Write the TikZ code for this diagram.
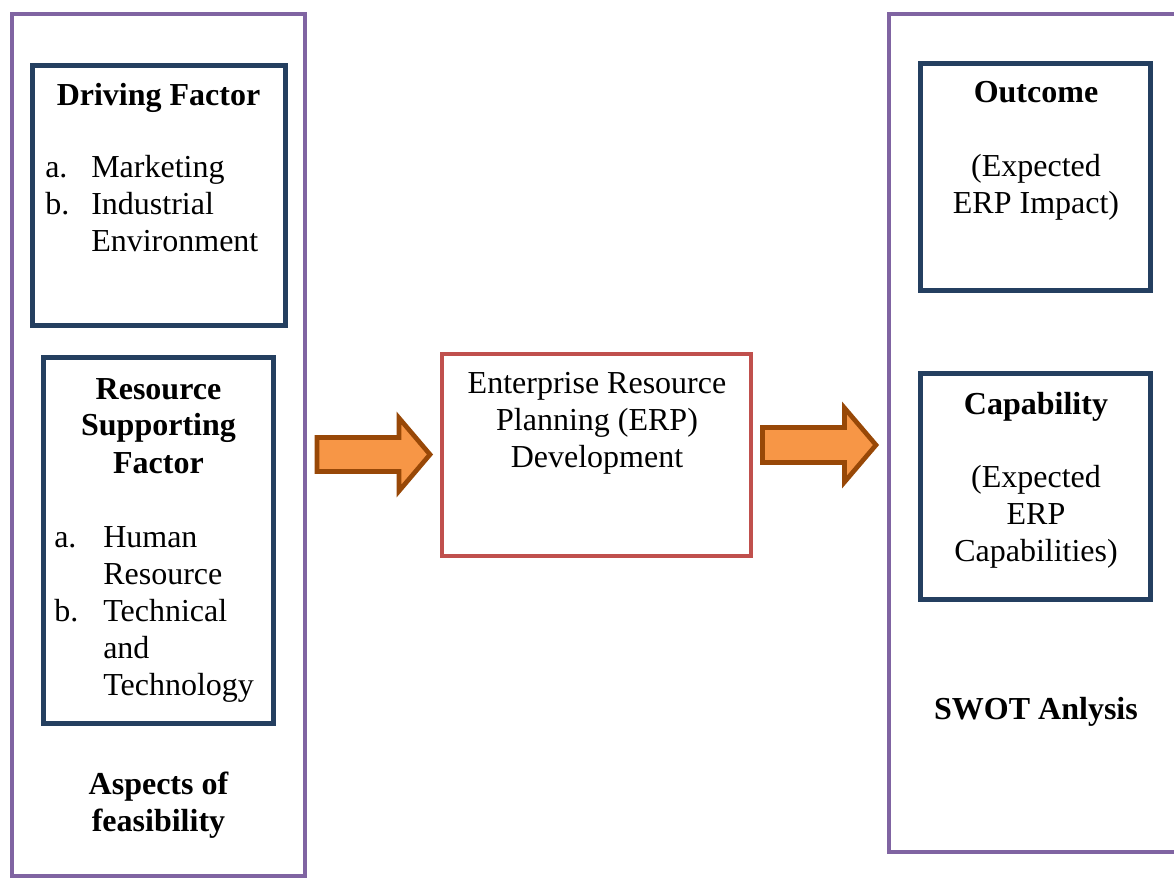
\documentclass[tikz,border=0pt]{standalone}
\usepackage{fontspec}
\setmainfont{Liberation Serif}
\definecolor{framepurple}{HTML}{8064A2}
\definecolor{factorblue}{HTML}{243F60}
\definecolor{erpred}{HTML}{C0504D}
\definecolor{arrowfill}{HTML}{F79646}
\definecolor{arrowline}{HTML}{984807}
\tikzset{
  outerframe/.style={draw=framepurple,line width=3pt},
  factorbox/.style={draw=factorblue,line width=3.75pt},
  erpbox/.style={draw=erpred,line width=3pt},
  fatarrow/.style={fill=arrowfill,draw=arrowline,line width=3.5pt},
  txt/.style={inner sep=0pt,font=\fontsize{24}{27.75}\selectfont},
  headtxt/.style={inner sep=0pt,font=\fontsize{24}{27.75}\selectfont\bfseries}
}
\begin{document}
\begin{tikzpicture}[x=0.75pt,y=-0.75pt]
  \useasboundingbox (0,0) rectangle (1174,880);

  % frames
  \draw[outerframe] (12,14) rectangle (305,876);
  \draw[outerframe] (1180,14) -- (889,14) -- (889,852) -- (1180,852);

  % boxes
  \draw[factorbox] (32.5,65.5) rectangle (285.5,325.5);
  \draw[factorbox] (43.5,357.5) rectangle (273.5,723.5);
  \draw[erpbox] (442,354) rectangle (751,556);
  \draw[factorbox] (920.5,63.5) rectangle (1150.5,290.5);
  \draw[factorbox] (920.5,373.5) rectangle (1150.5,599.5);

  % arrows
  \draw[fatarrow] (317,437.5) -- (399,437.5) -- (399,418) -- (430,454.5) -- (399,491) -- (399,471.5) -- (317,471.5) -- cycle;
  \draw[fatarrow] (762.5,427.5) -- (844.5,427.5) -- (844.5,408) -- (876,445) -- (844.5,482) -- (844.5,462.5) -- (762.5,462.5) -- cycle;

  % left side
  \node[headtxt,anchor=base] (driving) at (158.5,106) {Driving Factor};
  \node[txt,anchor=base west] (drivinglist) at (45,178) {\begin{tabular}[t]{@{}p{34.5pt}@{}l@{}}
    a. & Marketing\\
    b. & Industrial\\
       & Environment
  \end{tabular}};
  \node[headtxt,anchor=base] (resource) at (158.5,399) {\begin{tabular}[t]{@{}c@{}}
    Resource\\ Supporting\\ Factor
  \end{tabular}};
  \node[txt,anchor=base west] (resourcelist) at (54,547) {\begin{tabular}[t]{@{}p{36.75pt}@{}l@{}}
    a. & Human\\
       & Resource\\
    b. & Technical\\
       & and\\
       & Technology
  \end{tabular}};
  \node[headtxt,anchor=base] (aspects) at (158.5,794) {\begin{tabular}[t]{@{}c@{}}
    Aspects of\\ feasibility
  \end{tabular}};

  % middle
  \node[txt,anchor=base] (erp) at (597,393) {\begin{tabular}[t]{@{}c@{}}
    Enterprise Resource\\ Planning (ERP)\\ Development
  \end{tabular}};

  % right side
  \node[headtxt,anchor=base] (outcome) at (1036,103) {Outcome};
  \node[txt,anchor=base] (impact) at (1036,177) {\begin{tabular}[t]{@{}c@{}}
    (Expected\\ ERP Impact)
  \end{tabular}};
  \node[headtxt,anchor=base] (capability) at (1036,414) {Capability};
  \node[txt,anchor=base] (capabilities) at (1036,487) {\begin{tabular}[t]{@{}c@{}}
    (Expected\\ ERP\\ Capabilities)
  \end{tabular}};
  \node[headtxt,anchor=base] (swot) at (1036,719) {SWOT Anlysis};
\end{tikzpicture}
\end{document}
